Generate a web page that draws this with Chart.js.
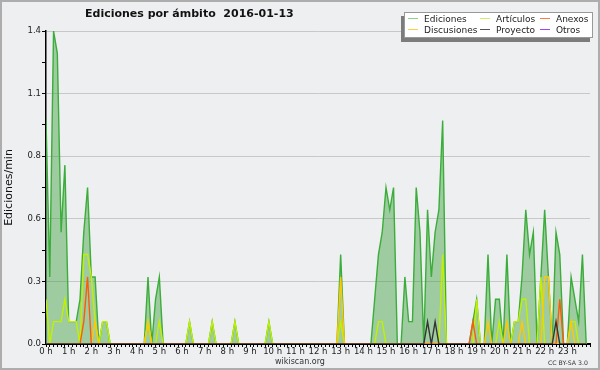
<!DOCTYPE html>
<html>
<head>
<meta charset="utf-8">
<script src="https://cdn.jsdelivr.net/npm/chart.js@4"></script>
<style>
  html, body { margin: 0; padding: 0; background: #eeeff1; }
  #wrap { position: relative; width: 600px; height: 370px; overflow: hidden; font-family: 'DejaVu Sans', sans-serif; }
  #wrap canvas { position: absolute; left: 0; top: 0; }
  #frame { position: absolute; left: 0; top: 0; width: 600px; height: 370px; box-sizing: border-box; border: 2px solid #adadad; pointer-events: none; }
  #titulo { position: absolute; left: 85px; top: 7px; font-size: 11px; line-height: 14px; font-weight: bold; color: #111; white-space: pre; }
  #leyenda { position: absolute; left: 404px; top: 12px; width: 189px; height: 26px; box-sizing: border-box; background: #fff; border: 1px solid #999; box-shadow: -3px 4px 0 #7c7c7c; }
  .it { position: absolute; height: 10px; font-size: 9px; line-height: 10px; color: #222; white-space: nowrap; }
  .it i { position: absolute; left: 0; top: 4px; width: 10px; height: 0; border-top: 1px solid; }
  .it span { position: absolute; left: 16px; top: 0; }
  #pie1 { position: absolute; left: 0; width: 600px; top: 357px; text-align: center; font-size: 8px; line-height: 10px; color: #333; }
  #pie2 { position: absolute; left: 548px; top: 358px; font-size: 6.2px; line-height: 9px; color: #333; white-space: nowrap; }
</style>
</head>
<body>
<div id="wrap">
  <canvas id="grafico" width="600" height="370"></canvas>
  <div id="titulo">Ediciones por ámbito  2016-01-13</div>
  <div id="leyenda"></div>
  <div id="pie1">wikiscan.org</div>
  <div id="pie2">CC BY-SA 3.0</div>
  <div id="frame"></div>
</div>
<script>
// ---- datos: ediciones/min por tramos de 10 minutos (6 por hora) ----
const hourLabels = ['0 h','1 h','2 h','3 h','4 h','5 h','6 h','7 h','8 h','9 h','10 h','11 h',
  '12 h','13 h','14 h','15 h','16 h','17 h','18 h','19 h','20 h','21 h','22 h','23 h'];
const slotsPerHour = 6;
const yMax = 1.4;
const yTickLabels = ['0.0','0.3','0.6','0.8','1.1','1.4'];

const ediciones = [
  1.0,0.3,1.4,1.3,0.5,0.8, 0.1,0.1,0.1,0.2,0.5,0.7,   // 0-1 h
  0.3,0.3,0,0.1,0.1,0,     0,0,0,0,0,0,               // 2-3 h
  0,0,0,0.3,0,0.2,         0.3,0,0,0,0,0,             // 4-5 h
  0,0,0.1,0,0,0,           0,0,0.1,0,0,0,             // 6-7 h
  0,0,0.1,0,0,0,           0,0,0,0,0,0.1,             // 8-9 h
  0,0,0,0,0,0,             0,0,0,0,0,0,               // 10-11 h
  0,0,0,0,0,0,             0.4,0,0,0,0,0,             // 12-13 h
  0,0,0,0.2,0.4,0.5,       0.7,0.6,0.7,0,0,0.3,       // 14-15 h
  0.1,0.1,0.7,0.5,0,0.6,   0.3,0.5,0.6,1.0,0,0,       // 16-17 h
  0,0,0,0,0,0.1,           0.2,0,0,0.4,0,0.2,         // 18-19 h
  0.2,0,0.4,0,0.1,0.1,     0.3,0.6,0.4,0.5,0,0.3,     // 20-21 h
  0.6,0.3,0,0.5,0.4,0,     0,0.3,0.2,0.1,0.4,0        // 22-23 h
];
const articulos = [
  0.2,0,0.1,0.1,0.1,0.2,   0.1,0.1,0.1,0,0.4,0.4,
  0.3,0.1,0,0.1,0.1,0,     0,0,0,0,0,0,
  0,0,0,0.1,0,0,           0.1,0,0,0,0,0,
  0,0,0.1,0,0,0,           0,0,0.1,0,0,0,
  0,0,0.1,0,0,0,           0,0,0,0,0,0.1,
  0,0,0,0,0,0,             0,0,0,0,0,0,
  0,0,0,0,0,0,             0.1,0,0,0,0,0,
  0,0,0,0,0.1,0.1,         0,0,0,0,0,0,
  0,0,0,0,0,0,             0,0,0,0.4,0,0,
  0,0,0,0,0,0,             0.2,0,0,0,0,0,
  0.1,0,0,0,0.1,0.1,       0.2,0.2,0,0,0,0.3,
  0,0,0,0,0,0,             0,0.1,0.1,0,0,0
];
const anexos = [
  0,0,0,0,0,0,             0,0,0,0,0.1,0.3,
  0,0,0,0,0,0,             0,0,0,0,0,0,
  0,0,0,0,0,0,             0,0,0,0,0,0,
  0,0,0,0,0,0,             0,0,0,0,0,0,
  0,0,0,0,0,0,             0,0,0,0,0,0,
  0,0,0,0,0,0,             0,0,0,0,0,0,
  0,0,0,0,0,0,             0,0,0,0,0,0,
  0,0,0,0,0,0,             0,0,0,0,0,0,
  0,0,0,0,0,0,             0,0,0,0,0,0,
  0,0,0,0,0,0.1,           0,0,0,0,0,0,
  0,0,0,0,0,0,             0,0,0,0,0,0,
  0,0,0,0,0.2,0,           0,0,0,0,0,0
];
const discusiones = [
  0,0,0,0,0,0,             0,0,0,0,0,0,
  0,0.1,0,0,0,0,           0,0,0,0,0,0,
  0,0,0,0.1,0,0,           0,0,0,0,0,0,
  0,0,0,0,0,0,             0,0,0,0,0,0,
  0,0,0,0,0,0,             0,0,0,0,0,0,
  0,0,0,0,0,0,             0,0,0,0,0,0,
  0,0,0,0,0,0,             0.3,0,0,0,0,0,
  0,0,0,0,0,0,             0,0,0,0,0,0,
  0,0,0,0,0,0,             0,0,0,0,0,0,
  0,0,0,0,0,0,             0,0,0,0.1,0,0,
  0,0,0.1,0,0,0,           0.1,0,0,0,0,0,
  0.3,0.3,0,0,0,0,         0,0.1,0,0,0,0
];
const proyecto = [
  0,0,0,0,0,0,             0,0,0,0,0,0,
  0,0,0,0,0,0,             0,0,0,0,0,0,
  0,0,0,0,0,0,             0,0,0,0,0,0,
  0,0,0,0,0,0,             0,0,0,0,0,0,
  0,0,0,0,0,0,             0,0,0,0,0,0,
  0,0,0,0,0,0,             0,0,0,0,0,0,
  0,0,0,0,0,0,             0,0,0,0,0,0,
  0,0,0,0,0,0,             0,0,0,0,0,0,
  0,0,0,0,0,0.1,           0,0.1,0,0,0,0,
  0,0,0,0,0,0,             0,0,0,0,0,0,
  0,0,0,0,0,0,             0,0,0,0,0,0,
  0,0,0,0.1,0,0,           0,0,0,0,0,0
];
const otros = [
  0,0,0,0,0,0,0,0,0,0,0,0, 0,0,0,0,0,0,0,0,0,0,0,0,
  0,0,0,0,0,0,0,0,0,0,0,0, 0,0,0,0,0,0,0,0,0,0,0,0,
  0,0,0,0,0,0,0,0,0,0,0,0, 0,0,0,0,0,0,0,0,0,0,0,0,
  0,0,0,0,0,0,0,0,0,0,0,0, 0,0,0,0,0,0,0,0,0,0,0,0,
  0,0,0,0,0,0,0,0,0,0,0,0, 0,0,0,0,0,0,0,0,0,0,0,0,
  0,0,0,0,0,0,0,0,0,0,0,0, 0,0,0,0,0,0,0,0,0,0,0,0
];

// orden de la leyenda: fila 1 y fila 2
const series = [
  { name: 'Ediciones',   data: ediciones,   line: '#3aad3a', key: '#8fd08f', fill: 'rgba(60,160,60,0.45)', order: 10 },
  { name: 'Artículos',   data: articulos,   line: '#c2f000', key: '#cdee66', order: 5 },
  { name: 'Anexos',      data: anexos,      line: '#ff5a0a', key: '#ff7a45', order: 3 },
  { name: 'Discusiones', data: discusiones, line: '#ffc800', key: '#ffcf40', order: 4 },
  { name: 'Proyecto',    data: proyecto,    line: '#333333', key: '#555555', order: 2 },
  { name: 'Otros',       data: otros,       line: '#9933ff', key: '#9944ff', order: 6 }
];

// ---- leyenda ----
const colX = [3, 75, 135], rowY = [1, 12];
const ley = document.getElementById('leyenda');
series.forEach((s, k) => {
  const d = document.createElement('div'); d.className = 'it';
  d.style.left = colX[k % 3] + 'px'; d.style.top = rowY[Math.floor(k / 3)] + 'px';
  d.innerHTML = `<i style="border-color:${s.key}"></i><span>${s.name}</span>`;
  ley.appendChild(d);
});

// ---- gráfico ----
const nSlots = hourLabels.length * slotsPerHour;
const xTickValues = Array.from({ length: nSlots + 1 }, (_, i) => i);
const yTickValues = Array.from({ length: 11 }, (_, i) => i * yMax / 10);

Chart.defaults.font.family = "'DejaVu Sans', sans-serif";
new Chart(document.getElementById('grafico'), {
  type: 'line',
  data: {
    datasets: series.map(s => ({
      label: s.name,
      data: s.data.map((v, i) => ({ x: i, y: v })),
      borderColor: s.line,
      backgroundColor: s.fill || s.line,
      fill: s.fill ? 'origin' : false,
      borderWidth: 1.4, pointRadius: 0, tension: 0, order: s.order
    }))
  },
  options: {
    responsive: false, animation: false, devicePixelRatio: 1,
    layout: { padding: { top: 31, right: 10, left: 0, bottom: 0 } },
    plugins: { legend: { display: false }, tooltip: { enabled: false } },
    scales: {
      x: {
        type: 'linear', min: 0, max: nSlots, z: 1,
        afterFit: s => { s.height = 26; },
        afterBuildTicks: s => { s.ticks = xTickValues.map(v => ({ value: v })); },
        ticks: { autoSkip: false, maxRotation: 0, padding: 0, color: '#222', font: { size: 8.5 },
          callback: v => (v % slotsPerHour === 0 && hourLabels[v / slotsPerHour]) || '' },
        grid: { drawOnChartArea: false, tickLength: 3, tickColor: '#000', color: '#000' },
        border: { color: '#000', width: 2 }
      },
      y: {
        min: 0, max: yMax, z: 1,
        afterFit: s => { s.width = 46; },
        afterBuildTicks: s => { s.ticks = yTickValues.map(v => ({ value: v })); },
        ticks: { padding: 1, color: '#222', font: { size: 8.5 },
          callback: (v, i) => i % 2 === 0 ? yTickLabels[i / 2] : '' },
        grid: { color: c => c.index % 2 === 0 ? '#c8c8c8' : 'rgba(0,0,0,0)', tickColor: '#000', tickLength: 4 },
        border: { color: '#000', width: 1.5 },
        title: { display: true, text: 'Ediciones/min', color: '#111', font: { size: 11 }, padding: { top: 3, bottom: 0 } }
      }
    }
  }
});
</script>
</body>
</html>
